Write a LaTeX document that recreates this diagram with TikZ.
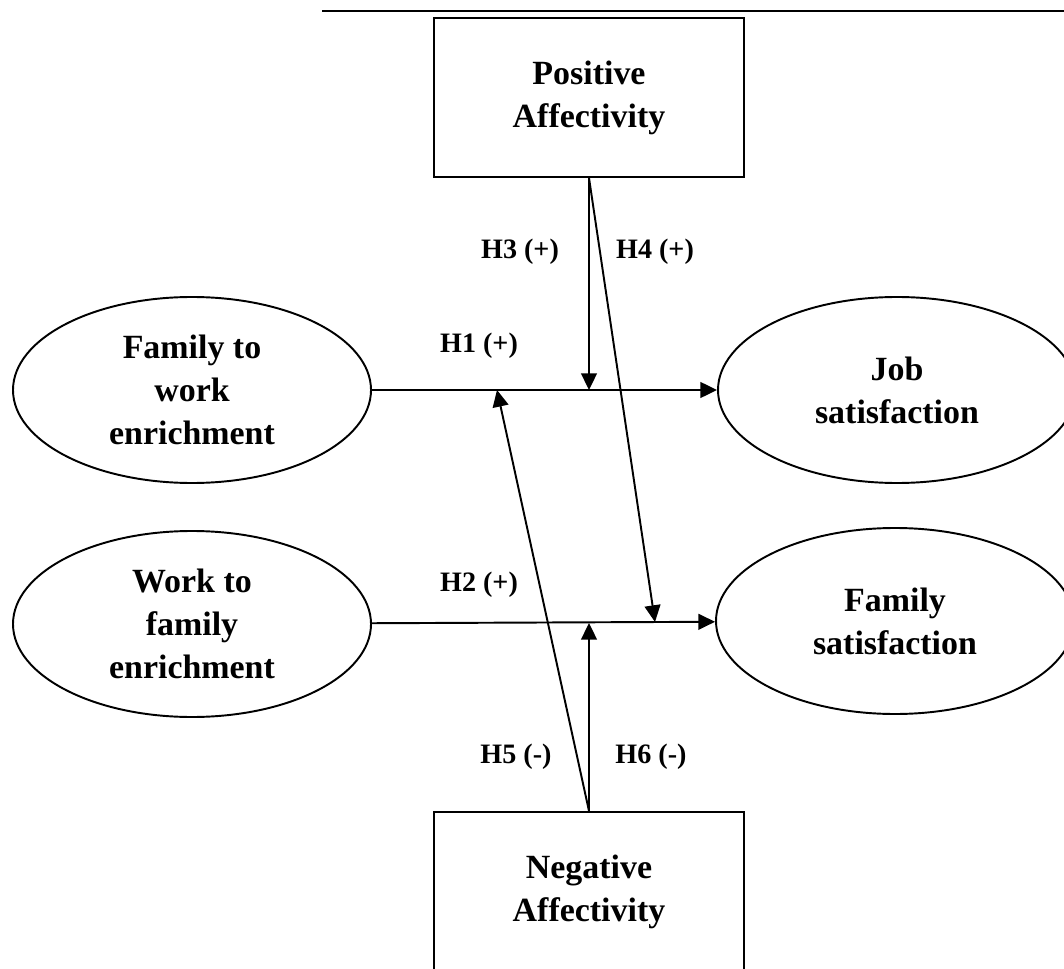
\documentclass[tikz,border=0pt]{standalone}
\usepackage{fontspec}
\setmainfont{Liberation Serif}
\usepackage{tikz}
\usetikzlibrary{arrows.meta, shapes, positioning}
\tikzset{>={Triangle[length=9.5pt,width=9pt]}}
\tikzstyle{latent}=[shape=ellipse, draw=black, line width=1.1pt, minimum width=7.16cm, minimum height=3.72cm, inner sep=0, align=center, font=\fontsize{19.3}{24.5}\selectfont\bfseries]
\tikzstyle{affect}=[shape=rectangle, draw=black, line width=1.1pt, minimum width=6.2cm, minimum height=3.18cm, align=center, font=\fontsize{19.3}{24.5}\selectfont\bfseries]
\tikzstyle{hyp}=[font=\fontsize{16}{19}\selectfont\bfseries, inner sep=0]

\begin{document}
\begin{tikzpicture}
		\useasboundingbox (0,0) rectangle (21.28,-19.38);
		\draw[line width=0.8pt] (6.44,-0.22) -- (21.28,-0.22);
		
		\node[affect] (pos) at (11.78,-1.95) {Positive\\Affectivity};
		\node[affect] (neg) at (11.78,-17.83) {Negative\\Affectivity};
		
		\node[latent] (ftw) at (3.84,-7.80) {Family to\\work\\enrichment};
		\node[latent] (wtf) at (3.84,-12.48) {Work to\\family\\enrichment};
		\node[latent] (job) at (17.94,-7.80) {Job\\satisfaction};
		\node[latent] (fam) at (17.90,-12.42) {Family\\satisfaction};
		
		\coordinate (m3) at (11.78,-7.80);
		\coordinate (m5) at (9.94,-7.80);
		\coordinate (m4) at (13.10,-12.44);
		\coordinate (m6) at (11.78,-12.46);
		
		\path[->, line width=1.1pt] (ftw) edge node {} (job);
		\path[->, line width=1.1pt] (wtf) edge node {} (fam);
		\path[->, line width=1.1pt] (pos.south) edge node {} (m3);
		\path[->, line width=1.1pt] (pos.south) edge node {} (m4);
		\path[->, line width=1.1pt] (neg.north) edge node {} (m5);
		\path[->, line width=1.1pt] (neg.north) edge node {} (m6);
		
		\node[hyp] (h1) at (9.58,-6.92) {H1 (+)};
		\node[hyp] (h2) at (9.58,-11.70) {H2 (+)};
		\node[hyp] (h3) at (10.40,-5.04) {H3 (+)};
		\node[hyp] (h4) at (13.10,-5.04) {H4 (+)};
		\node[hyp] (h5) at (10.32,-15.14) {H5 (-)};
		\node[hyp] (h6) at (13.02,-15.14) {H6 (-)};
	\end{tikzpicture}
\end{document}
